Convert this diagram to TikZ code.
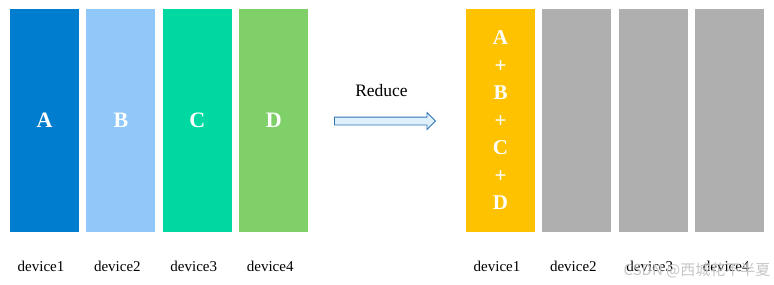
\documentclass[tikz,border=0pt]{standalone}
\usepackage{fontspec}
\setmainfont{Liberation Serif}
\newfontfamily\cjkfont{Noto Sans CJK SC}
\usetikzlibrary{positioning, shapes.arrows}
\definecolor{devblue}{RGB}{0, 125, 206}
\definecolor{devsky}{RGB}{144, 200, 250}
\definecolor{devteal}{RGB}{0, 216, 162}
\definecolor{devlime}{RGB}{128, 208, 106}
\definecolor{sumgold}{RGB}{255, 194, 0}
\definecolor{idlegray}{RGB}{175, 175, 175}
\definecolor{arrowline}{RGB}{46, 117, 182}
\definecolor{arrowfill}{RGB}{222, 240, 250}

\begin{document}
\begin{tikzpicture}[
  x=1pt, y=-1pt,
  bar/.style={minimum width=69pt, minimum height=223pt, inner sep=0pt, text=white, font=\fontsize{22}{27.5}\selectfont\bfseries, align=center},
  devlabel/.style={font=\fontsize{15}{18}\selectfont, inner sep=0pt}
]
  \useasboundingbox (0,0) rectangle (774,284);

  % devices before the reduce
  \node[bar, fill=devblue] (b1) at (44.5,120.5) {A};
  \node[bar, fill=devsky, right=7pt of b1] (b2) {B};
  \node[bar, fill=devteal, right=7pt of b2] (b3) {C};
  \node[bar, fill=devlime, right=7pt of b3] (b4) {D};

  % devices after the reduce
  \node[bar, fill=sumgold, font=\fontsize{21}{27.5}\selectfont\bfseries] (r1) at (500.5,120.5) {A\\+\\B\\+\\C\\+\\D};
  \node[bar, fill=idlegray, right=7pt of r1] (r2) {};
  \node[bar, fill=idlegray, right=7pt of r2] (r3) {};
  \node[bar, fill=idlegray, right=7pt of r3] (r4) {};

  % labels
  \foreach \b/\t in {b1/device1, b2/device2, b3/device3, b4/device4, r1/device1, r2/device2, r3/device3, r4/device4}
    \node[devlabel, below=29pt of \b.south, xshift=-3.5pt] (\b-lbl) {\t};

  % the reduce arrow
  \node[single arrow, draw=arrowline, fill=arrowfill, line width=0.8pt, minimum height=101pt,
        inner xsep=0pt, inner ysep=3.5pt, single arrow head extend=4.5pt, single arrow head indent=0pt] (reduce) at (383,121) {};
  \node[font=\fontsize{17.5}{20}\selectfont, above=21pt of reduce.center, xshift=-1.5pt] (reducelbl) {Reduce};

  % watermark
  \node[text=gray!45, font=\cjkfont\fontsize{15}{18}\selectfont, inner sep=0pt] (mark) at (697,270) {CSDN @西城花不半夏};
\end{tikzpicture}
\end{document}
